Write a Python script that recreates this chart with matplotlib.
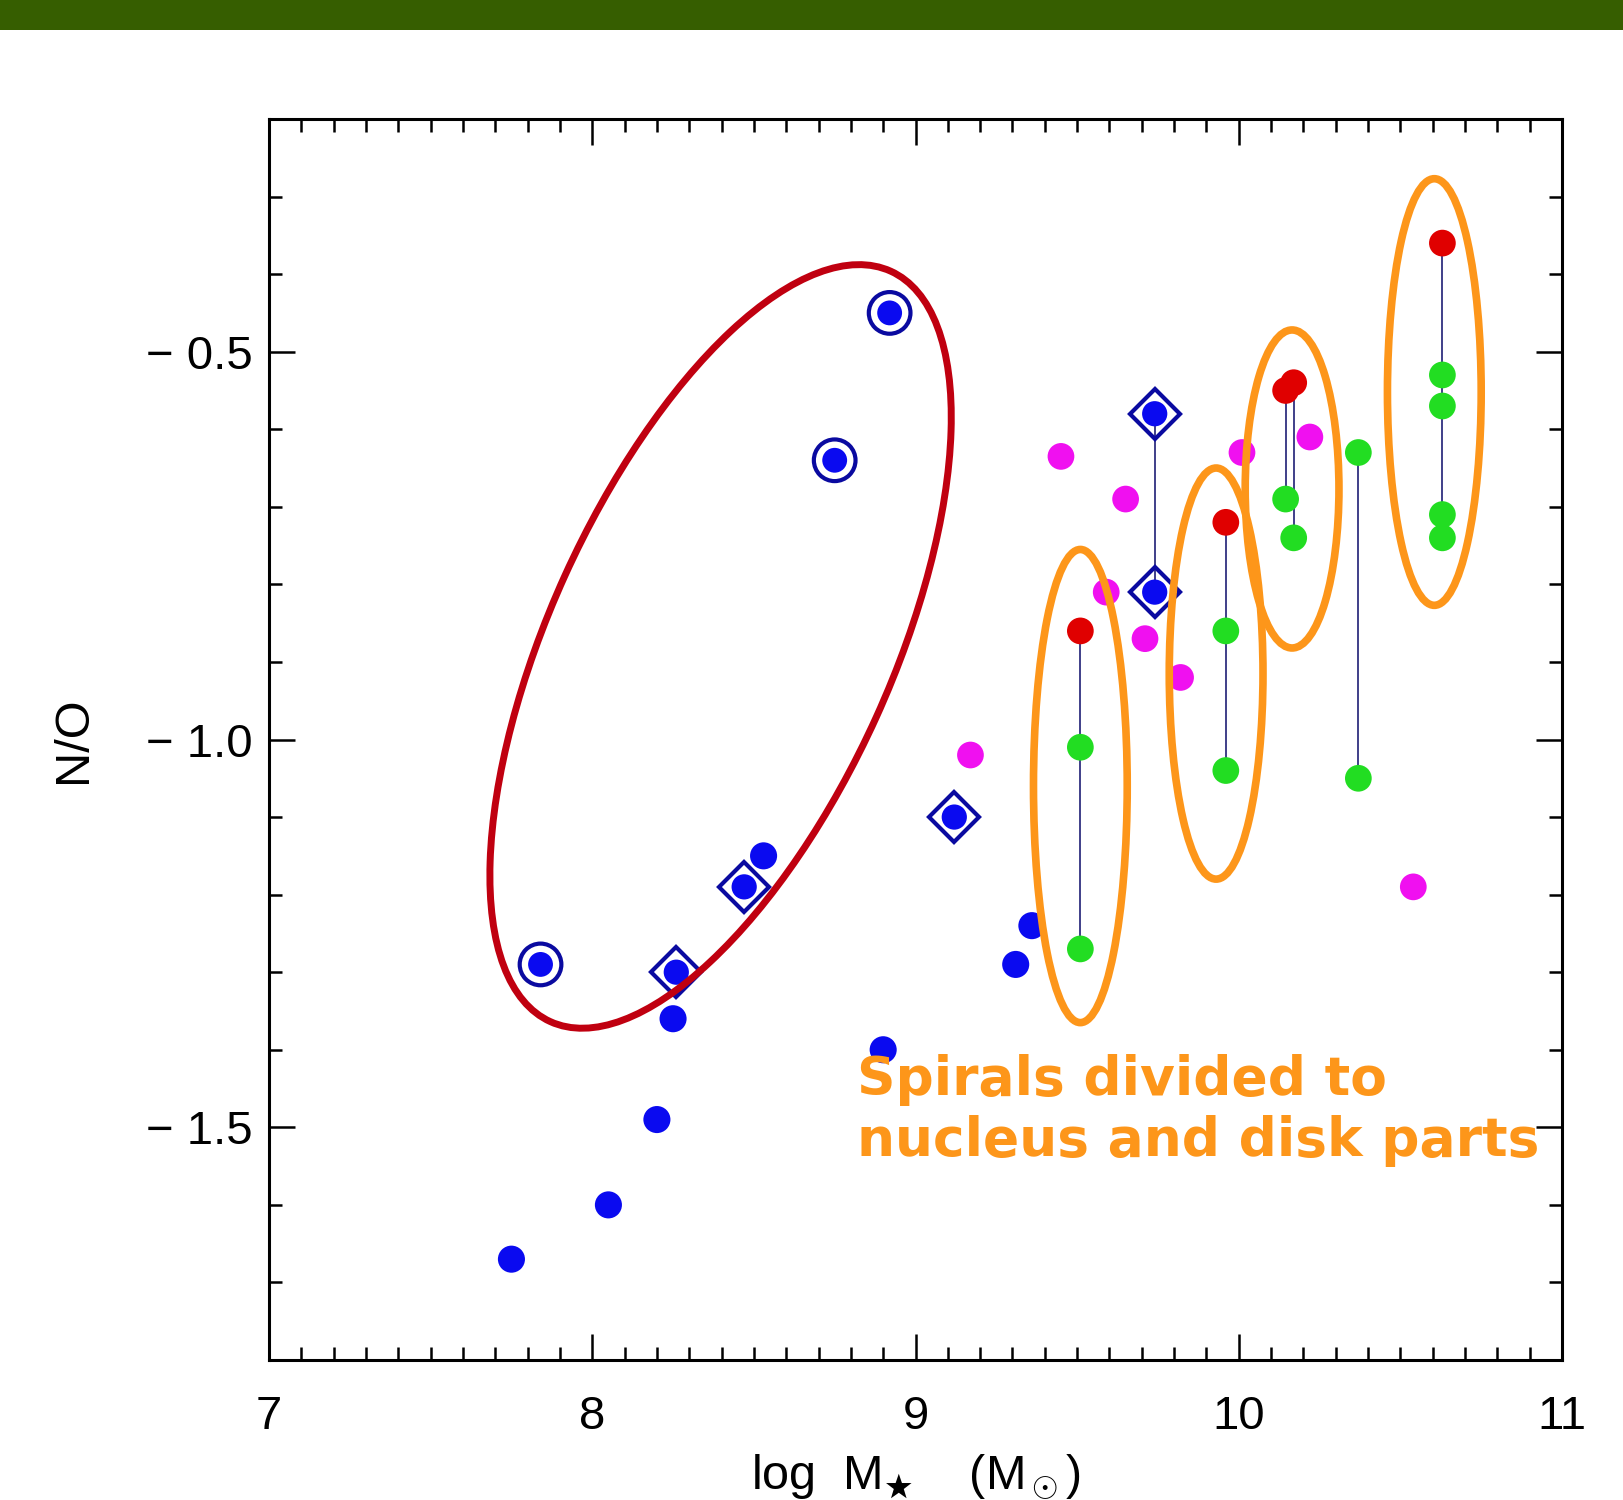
import numpy as np
import matplotlib
matplotlib.use('Agg')
import matplotlib.pyplot as plt
from matplotlib.patches import Ellipse, Rectangle
import matplotlib.transforms as mtransforms

# plain galaxies (filled blue)
blue_x = [7.75, 8.05, 8.20, 8.25, 8.53, 8.90, 9.31, 9.36]
blue_y = [-1.67, -1.60, -1.49, -1.36, -1.15, -1.40, -1.29, -1.24]

# blue with ring
ring_x = [7.84, 8.75, 8.92]
ring_y = [-1.29, -0.64, -0.45]

# blue with diamond
diam_x = [8.26, 8.47, 9.12, 9.74, 9.74]
diam_y = [-1.30, -1.19, -1.10, -0.58, -0.81]

# magenta
mag_x = [9.17, 9.45, 9.59, 9.65, 9.71, 9.82, 10.01, 10.22, 10.54]
mag_y = [-1.02, -0.635, -0.81, -0.69, -0.87, -0.92, -0.63, -0.61, -1.19]

# spirals: nucleus (red) and disk parts (green)
spiral_x = [9.51, 9.96, 10.145, 10.17, 10.37, 10.63]
nucleus_y = [-0.86, -0.72, -0.55, -0.54, np.nan, -0.36]
disk_y = [[-1.01, -1.27], [-0.86, -1.04], [-0.69], [-0.74],
          [-0.63, -1.05], [-0.53, -0.57, -0.71, -0.74]]

# orange groups
grp_x = [9.51, 9.93, 10.165, 10.605]
grp_y = [-1.06, -0.915, -0.677, -0.552]
grp_h = [0.61, 0.53, 0.41, 0.55]

x_ticks = [7, 8, 9, 10, 11]
y_ticks = [-1.5, -1.0, -0.5]
y_ticklabels = ['\u2212 1.5', '\u2212 1.0', '\u2212 0.5']

BLUE = '#0a0af0'
NAVY = '#0a0aa0'
MAG = '#f010f0'
GREEN = '#22dd22'
RED = '#e00000'
ORANGE = '#fd961a'

plt.rcParams['mathtext.fontset'] = 'custom'
plt.rcParams['mathtext.rm'] = 'Liberation Sans'
plt.rcParams['mathtext.it'] = 'Liberation Sans'

fig = plt.figure(figsize=(16.24, 15), dpi=100)
fig.patches.append(Rectangle((0, 1 - 30 / 1500), 1, 30 / 1500, transform=fig.transFigure,
                             facecolor='#365e00', edgecolor='none'))
ax = fig.add_axes([269 / 1624, 140 / 1500, 1293 / 1624, 1241 / 1500])

# connecting lines
ax.vlines(diam_x[3], diam_y[4], diam_y[3], color='#303080', lw=1.3, zorder=2)
for x, ny, dys in zip(spiral_x, nucleus_y, disk_y):
    ys = list(dys) + ([] if np.isnan(ny) else [ny])
    ax.vlines(x, min(ys), max(ys), color='#303080', lw=1.3, zorder=2)

ax.scatter(blue_x, blue_y, s=380, color=BLUE, edgecolors='none', zorder=3)
ax.scatter(ring_x, ring_y, s=900, facecolors='none', edgecolors=NAVY, linewidths=3, zorder=3)
ax.scatter(ring_x, ring_y, s=320, color=BLUE, edgecolors='none', zorder=3)
ax.plot(diam_x, diam_y, 'D', ms=25, mfc='none', mec=NAVY, mew=3, zorder=3)
ax.scatter(diam_x, diam_y, s=330, color=BLUE, edgecolors='none', zorder=3)
ax.scatter(mag_x, mag_y, s=370, color=MAG, edgecolors='none', zorder=3)
for x, dys in zip(spiral_x, disk_y):
    ax.scatter([x] * len(dys), dys, s=370, color=GREEN, edgecolors='none', zorder=3)
ax.scatter(spiral_x, nucleus_y, s=370, color=RED, edgecolors='none', zorder=4)

for cx, cy, h in zip(grp_x, grp_y, grp_h):
    ax.add_patch(Ellipse((cx, cy), 0.29, h, facecolor='none', edgecolor=ORANGE, lw=5.5, zorder=5))

# tilted red ellipse, sized in inches so it is not squashed by the axes aspect
tr = fig.dpi_scale_trans + mtransforms.ScaledTranslation(8.397, -0.88, ax.transData)
ax.add_patch(Ellipse((0, 0), 8.24, 3.42, angle=65.6, transform=tr,
                     facecolor='none', edgecolor='#c00010', lw=5, zorder=5))

ax.text(8.82, -1.405, 'Spirals divided to\nnucleus and disk parts', color=ORANGE,
        fontsize=38.5, fontweight='bold', family='DejaVu Sans', va='top', ha='left',
        linespacing=1.24, zorder=6)

ax.set_xlim(7, 11)
ax.set_ylim(-1.8, -0.2)
ax.set_xticks(x_ticks)
ax.set_xticks(np.arange(7, 11.001, 0.1), minor=True)
ax.set_yticks(y_ticks)
ax.set_yticklabels(y_ticklabels)
ax.set_yticks(np.arange(-1.8, -0.199, 0.1), minor=True)
ax.tick_params(which='both', direction='in', top=True, right=True, width=1.8,
               labelsize=34, labelfontfamily='Liberation Sans')
ax.tick_params(which='major', length=19)
ax.tick_params(which='minor', length=9.5)
ax.tick_params(axis='x', pad=25)
ax.tick_params(axis='y', pad=12)
for s in ax.spines.values():
    s.set_linewidth(2.2)

ax.set_xlabel(r'log  M$_\bigstar$    (M$_\odot$)', fontsize=35, family='Liberation Sans', labelpad=10)
ax.set_ylabel('N/O', fontsize=35, family='Liberation Sans', labelpad=36)

fig.savefig('out.png', dpi=100)
